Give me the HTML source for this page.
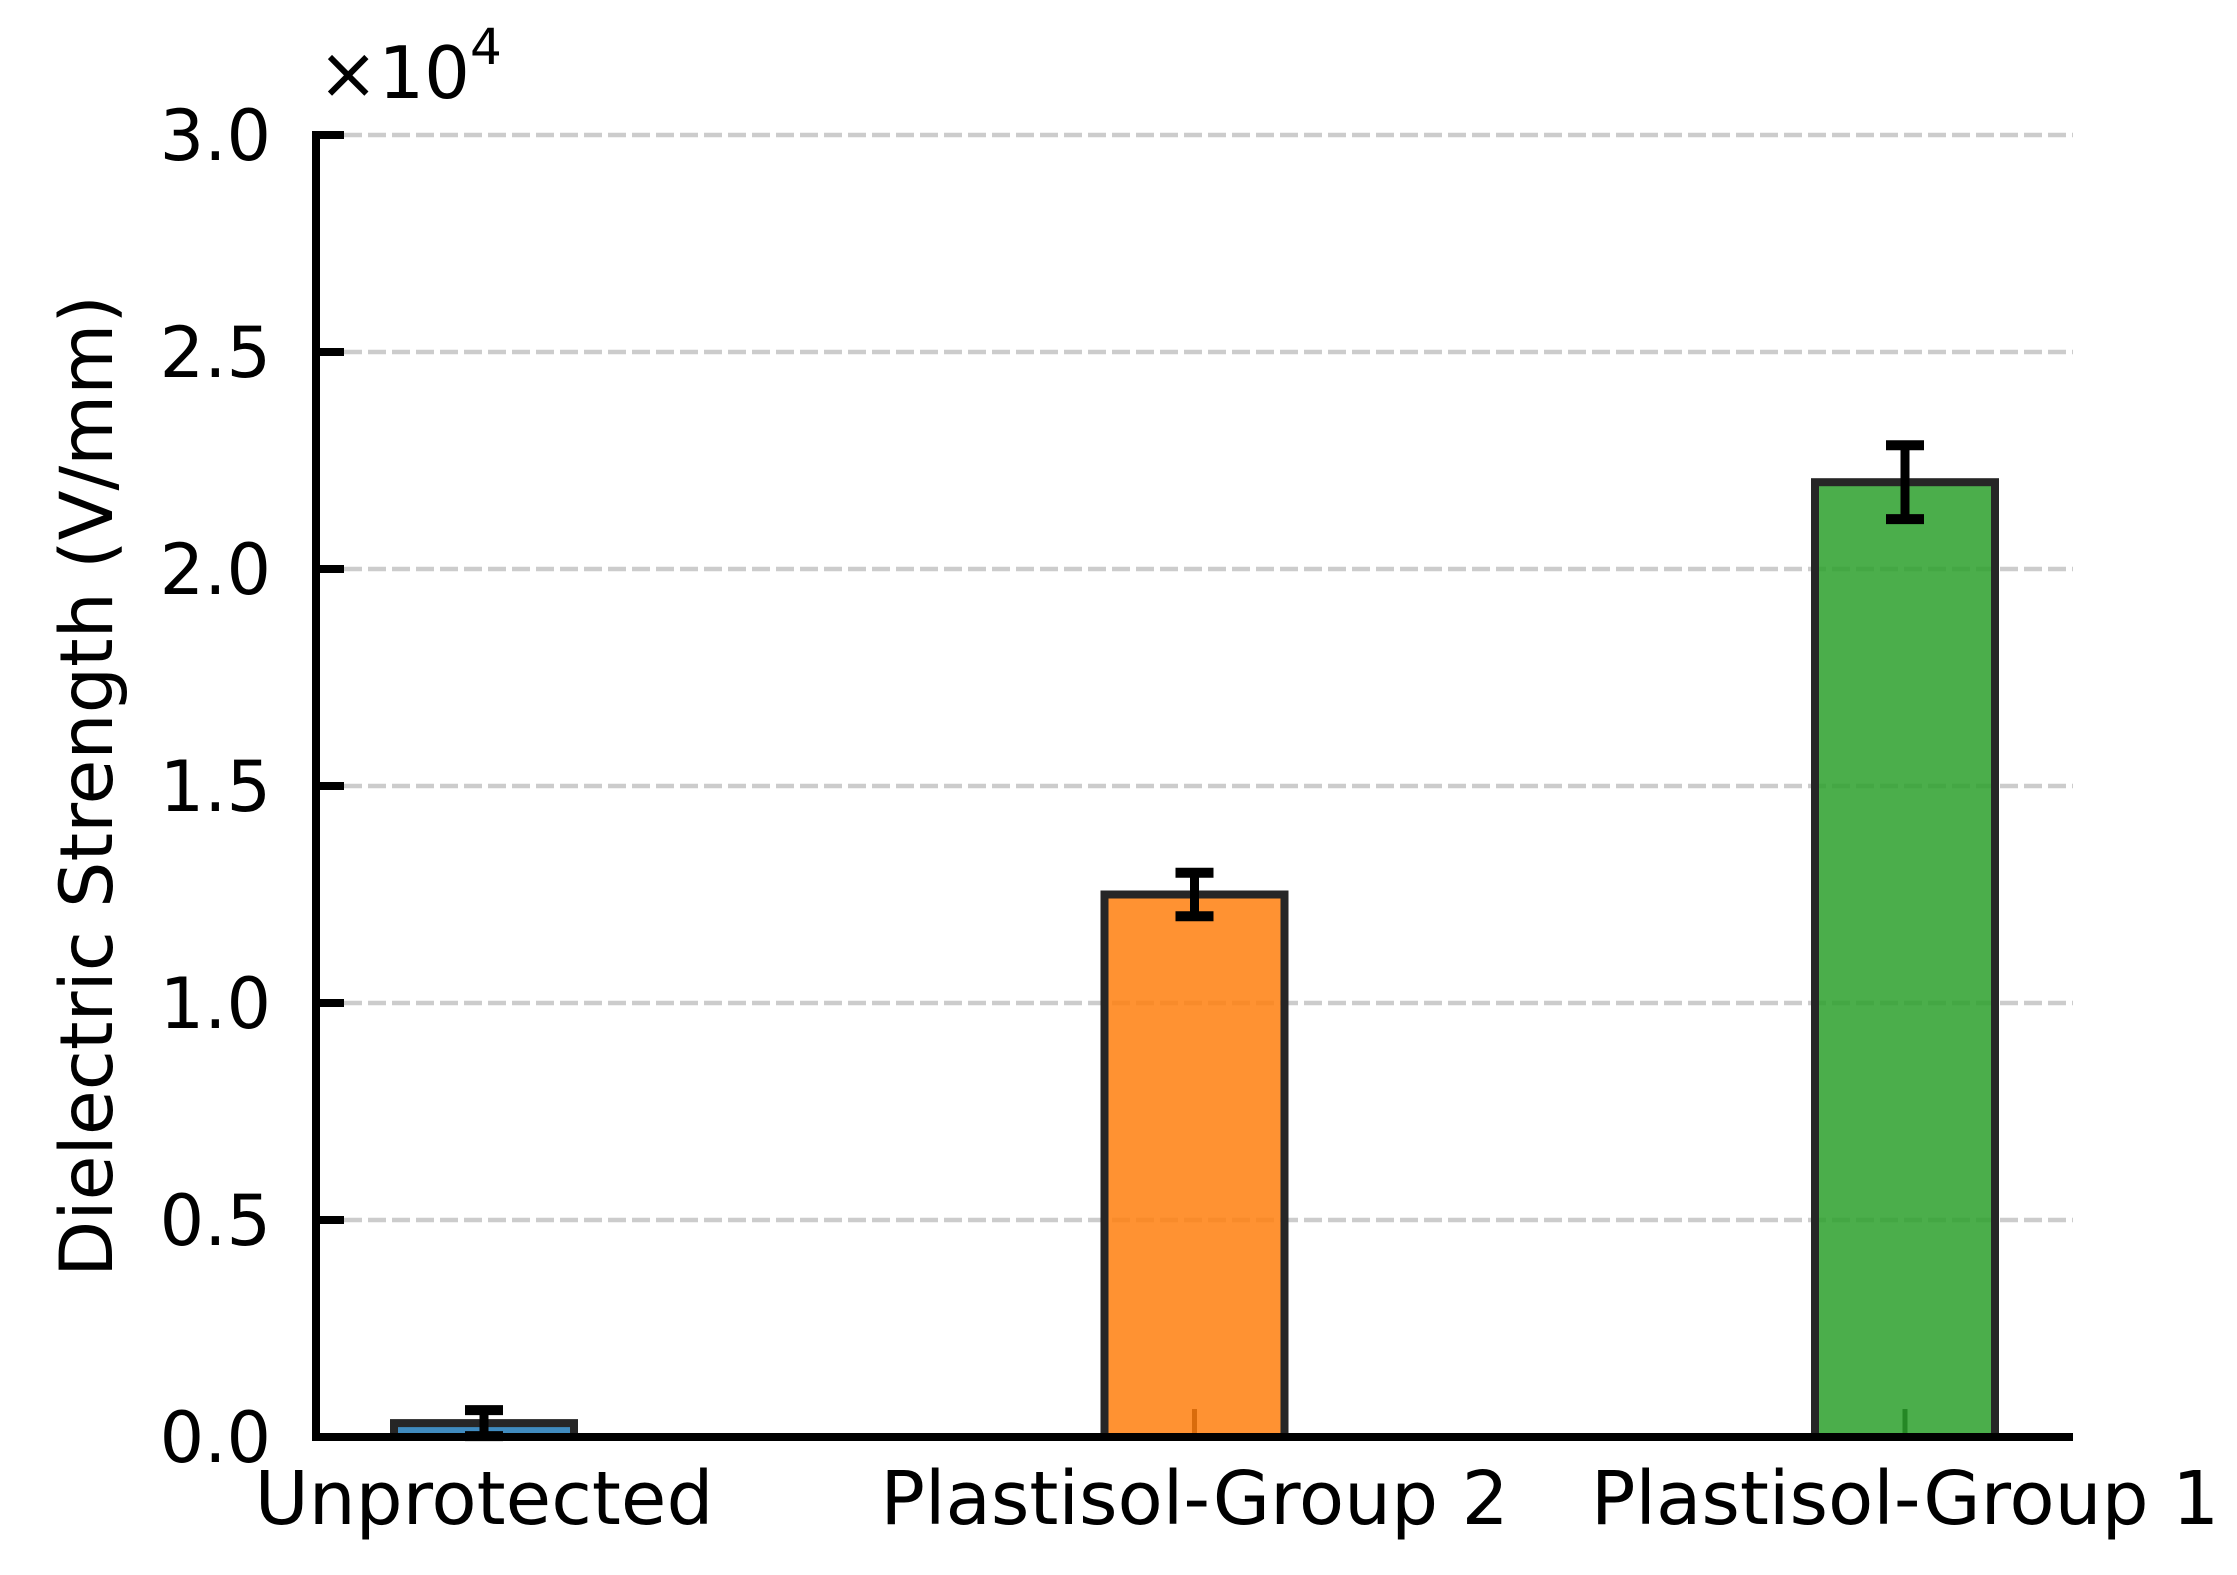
<!DOCTYPE html>
<html><head><meta charset="utf-8"><style>
html,body{margin:0;padding:0;background:#fff;}
svg{display:block;font-family:"DejaVu Sans","Liberation Sans",sans-serif;}
</style></head><body>
<svg id="chart" width="2237" height="1575" viewBox="0 0 2237 1575" xmlns="http://www.w3.org/2000/svg">
<g id="grid"></g><g id="xticks"></g><g id="bars"></g><g id="errs"></g><g id="axes"></g><g id="labels"></g>
</svg>
<script>
const categories = ["Unprotected", "Plastisol-Group 2", "Plastisol-Group 1"];
const values = [0.032, 1.25, 2.20];
const errors = [0.03, 0.05, 0.085];
const yTicks = [0, 0.5, 1.0, 1.5, 2.0, 2.5, 3.0];
const yTickLabels = ["0.0", "0.5", "1.0", "1.5", "2.0", "2.5", "3.0"];
const colors = ["#1f77b4", "#ff7f0e", "#2ca02c"];

const NS = "http://www.w3.org/2000/svg";
const X0 = 316, X1 = 2073, Y0 = 1437, Y1 = 135;
const catStep = 710.5, cat0 = 484;
const x = i => cat0 + i * catStep;
const y = v => Y0 - (v - 0) / (3.0 - 0) * (Y0 - Y1);
const barW = 180;
function mk(tag, attrs, parent) {
  const e = document.createElementNS(NS, tag);
  for (const k in attrs) e.setAttribute(k, attrs[k]);
  document.getElementById(parent).appendChild(e);
  return e;
}
yTicks.forEach((t, i) => {
  if (t > 0) {
    const g = mk("line", {x1: X0 + 4, x2: X1, y1: y(t), y2: y(t), stroke: "#cccccc", "stroke-width": 4.5, "stroke-dasharray": "18 6"}, "grid");
    
    
  }
  const tk = mk("line", {x1: X0, x2: X0 + 28, y1: y(t), y2: y(t), stroke: "#000", "stroke-width": 8}, "axes");
  
  
  const lb = mk("text", {x: 271, y: y(t) + 25, "text-anchor": "end", "font-size": 70, fill: "#000"}, "labels");
  lb.textContent = yTickLabels[i];
  
  
});
categories.forEach((c, i) => {
  const tk = mk("line", {x1: x(i), x2: x(i), y1: Y0, y2: Y0 - 28, stroke: "#000", "stroke-width": 5}, "xticks");
  
  
  const b = mk("rect", {x: x(i) - barW / 2, y: y(values[i]), width: barW, height: Y0 - y(values[i]), fill: colors[i], "fill-opacity": 0.85, stroke: "#262626", "stroke-width": 8}, "bars");
  
  
  const top = y(values[i] + errors[i]), bot = y(values[i] - errors[i]);
  const eg = mk("g", {stroke: "#000"}, "errs");
  
  
  [[x(i), top, x(i), bot, 9], [x(i) - 19, top, x(i) + 19, top, 10], [x(i) - 19, bot, x(i) + 19, bot, 10]].forEach(a => {
    const l = document.createElementNS(NS, "line");
    l.setAttribute("x1", a[0]); l.setAttribute("y1", a[1]); l.setAttribute("x2", a[2]); l.setAttribute("y2", a[3]); l.setAttribute("stroke-width", a[4]);
    eg.appendChild(l);
  });
  const lb = mk("text", {x: x(i), y: 1524, "text-anchor": "middle", "font-size": 74, fill: "#000"}, "labels");
  lb.textContent = c;
  
  
});
const ya = mk("line", {x1: X0, x2: X0, y1: Y1 - 4, y2: Y0 + 4, stroke: "#000", "stroke-width": 8}, "axes");


const xa = mk("line", {x1: X0 - 4, x2: X1, y1: Y0, y2: Y0, stroke: "#000", "stroke-width": 8}, "axes");


const yt = mk("text", {x: 0, y: 0, "text-anchor": "middle", "font-size": 73, fill: "#000", transform: "translate(112,786) rotate(-90)"}, "labels");
yt.textContent = "Dielectric Strength (V/mm)";


const off = mk("text", {x: 318, y: 98, "font-size": 72, fill: "#000"}, "labels");
off.innerHTML = '×10<tspan dy="-34" font-size="50">4</tspan>';


</script>
</body></html>
